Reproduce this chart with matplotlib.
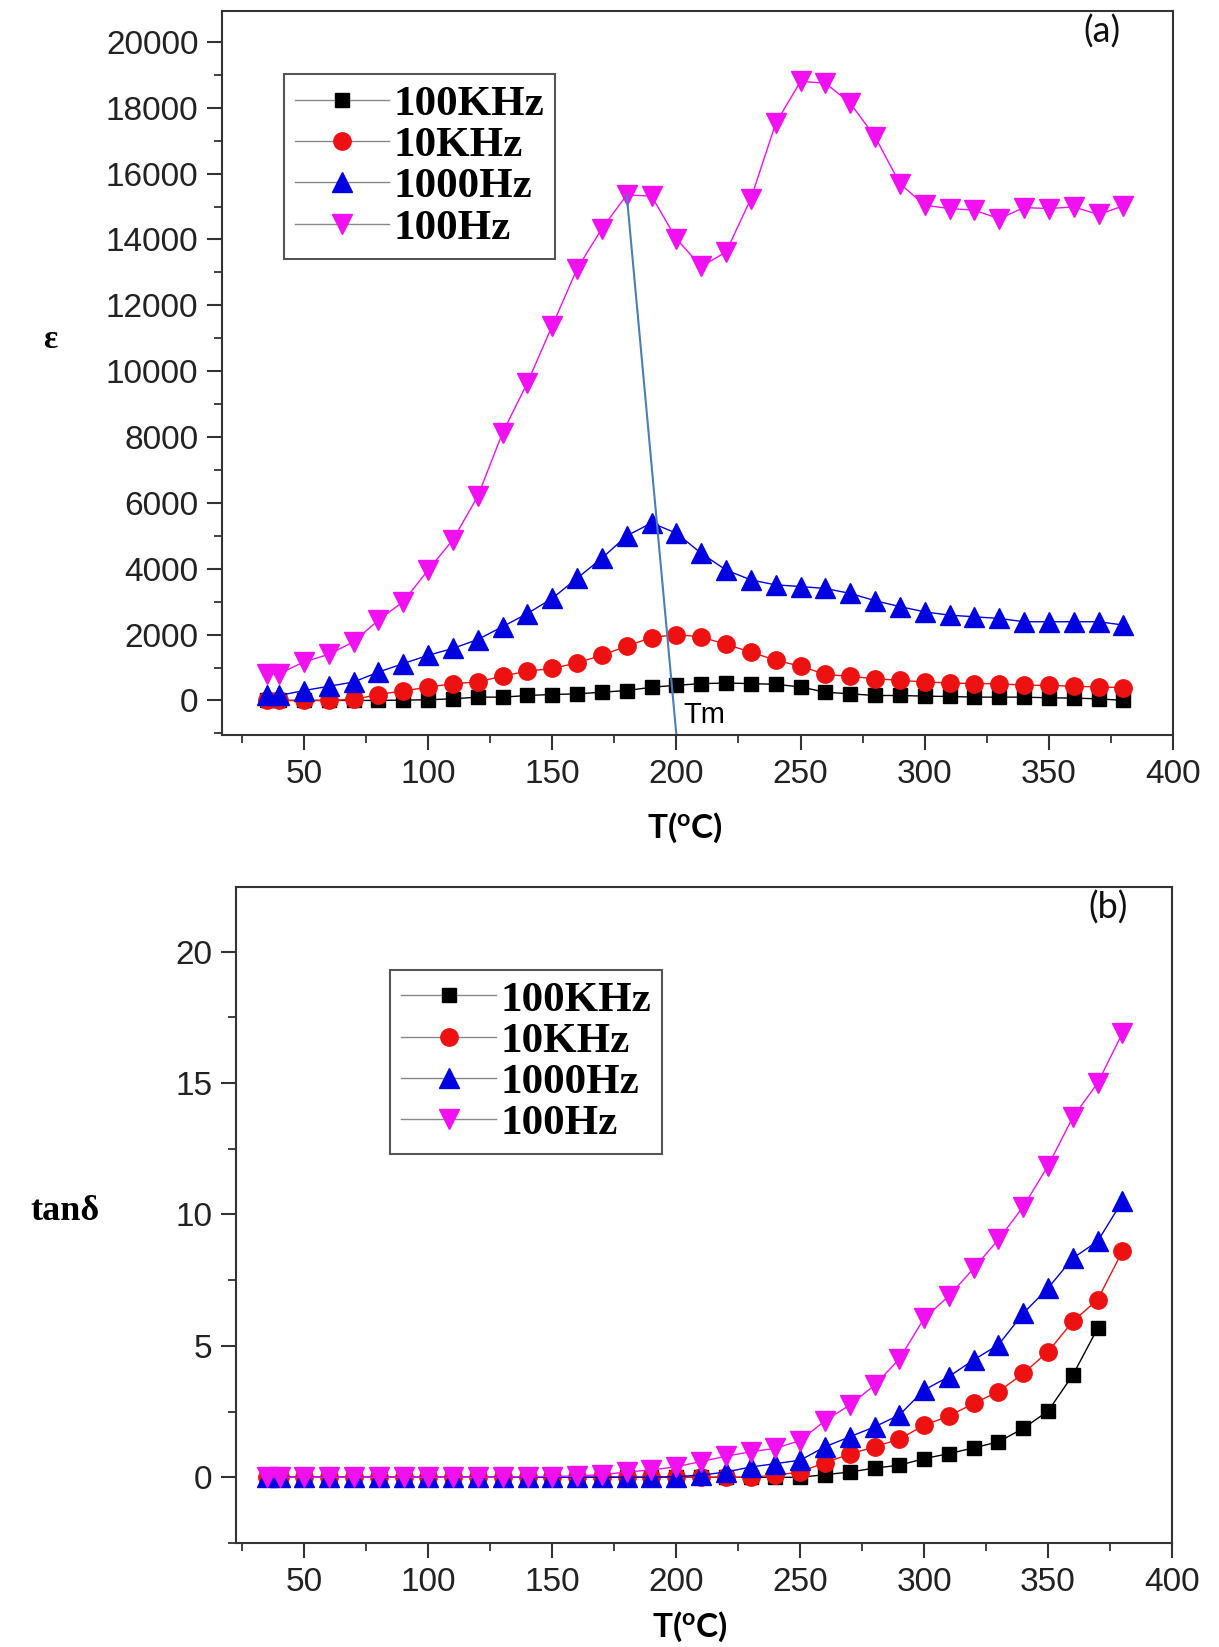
import matplotlib
matplotlib.use('Agg')
import matplotlib.pyplot as plt
from matplotlib.ticker import MultipleLocator
from matplotlib.font_manager import FontProperties

plt.rcParams['font.family'] = ['Liberation Sans', 'DejaVu Sans']

# temperature points (same for both panels)
T = [35, 40, 50, 60, 70, 80, 90, 100, 110, 120, 130, 140, 150, 160, 170, 180,
     190, 200, 210, 220, 230, 240, 250, 260, 270, 280, 290, 300, 310, 320, 330,
     340, 350, 360, 370, 380]

# (a) dielectric constant
eps_100k = [0, 0, 0, 0, 0, 0, 10, 20, 50, 100, 100, 150, 180, 200, 250, 300,
            400, 460, 510, 530, 510, 490, 410, 250, 200, 150, 150, 130, 120, 100,
            100, 100, 80, 70, 50, 0]
eps_10k = [0, 0, 0, 0, 30, 180, 290, 400, 510, 560, 740, 890, 970, 1140, 1370,
           1650, 1910, 2000, 1930, 1700, 1470, 1220, 1040, 790, 730, 660, 610,
           560, 530, 510, 510, 460, 460, 430, 410, 390]
eps_1000 = [150, 150, 300, 430, 560, 860, 1120, 1370, 1580, 1850, 2240, 2640,
            3100, 3710, 4320, 5000, 5390, 5080, 4470, 3960, 3660, 3510, 3460,
            3400, 3250, 3030, 2850, 2690, 2590, 2540, 2490, 2390, 2390, 2390,
            2390, 2290]
eps_100 = [810, 810, 1170, 1400, 1780, 2440, 3000, 3960, 4880, 6200, 8130, 9650,
           11380, 13110, 14330, 15350, 15320, 14020, 13180, 13620, 15240, 17530,
           18800, 18750, 18140, 17120, 15700, 15040, 14940, 14890, 14630, 14970,
           14940, 14990, 14760, 15020]

# (b) loss tangent
tan_100k = [0, 0, 0, 0, 0, 0, 0, 0, 0, 0, 0, 0, 0, 0, 0, 0, 0, 0, 0, 0, 0, 0, 0,
            0.1, 0.2, 0.35, 0.46, 0.71, 0.9, 1.12, 1.35, 1.86, 2.52, 3.89, 5.67]
tan_10k = [0, 0, 0, 0, 0, 0, 0, 0, 0, 0, 0, 0, 0, 0, 0, 0, 0, 0, 0, 0, 0,
           0.08, 0.2, 0.56, 0.88, 1.16, 1.45, 1.98, 2.33, 2.81, 3.26, 3.95, 4.78,
           5.93, 6.76, 8.6]
tan_1000 = [0, 0, 0, 0, 0, 0, 0, 0, 0, 0, 0, 0, 0, 0, 0, 0, 0,
            0.03, 0.08, 0.2, 0.39, 0.52, 0.65, 1.16, 1.54, 1.92, 2.37, 3.32, 3.83,
            4.47, 5.04, 6.24, 7.2, 8.34, 8.98, 10.51]
tan_100 = [0, 0, 0, 0, 0, 0, 0, 0, 0, 0, 0, 0.02, 0.03,
           0.05, 0.1, 0.2, 0.28, 0.4, 0.6, 0.8, 0.97, 1.1, 1.4, 2.15, 2.75, 3.5,
           4.5, 6.05, 6.9, 7.95, 9.05, 10.3, 11.85, 13.7, 15.0, 16.9]

labels = ['100KHz', '10KHz', '1000Hz', '100Hz']
markers = ['s', 'o', '^', 'v']
colors = ['#000000', '#ee1111', '#0000e0', '#f010f0']
msizes = [10.5, 12.5, 14, 14]

# Tm guide line (from the first 100Hz maximum down to the axis)
tm_start = (180, 15350)
tm_end = (200, -1050)

W, H = 1219, 1647
fig = plt.figure(figsize=(W / 100, H / 100), dpi=100)

ax1 = fig.add_axes([222 / W, 1 - 735 / H, 951 / W, 724 / H])
ax2 = fig.add_axes([236 / W, 1 - 1543 / H, 936 / W, 656 / H])

legfont = FontProperties(family='Liberation Serif', weight='bold', size=31)


def style_axes(ax):
    for s in ax.spines.values():
        s.set_color('#333333')
        s.set_linewidth(1.5)
    ax.tick_params(which='major', direction='out', length=11, width=1.5,
                   labelsize=24, labelcolor='#222222', color='#333333', pad=6)
    ax.tick_params(which='minor', direction='out', length=6, width=1.3,
                   color='#333333')


def add_legend(ax, anchor):
    leg = ax.legend(loc='upper left', bbox_to_anchor=anchor, prop=legfont,
                    fancybox=False, edgecolor='#555555', framealpha=1,
                    labelspacing=0.05, handlelength=2.2, handletextpad=0.1,
                    borderpad=0.25, borderaxespad=0)
    leg.get_frame().set_linewidth(1.5)
    for h in leg.get_lines():
        h.set_color('#888888')
    return leg


# ---- panel (a)
for y, lab, m, c, ms in zip([eps_100k, eps_10k, eps_1000, eps_100], labels,
                            markers, colors, msizes):
    ax1.plot(T, y, marker=m, color=c, mfc=c, mec=c, ms=ms, lw=1.0, label=lab)

ax1.plot([tm_start[0], tm_end[0]], [tm_start[1], tm_end[1]], color='#4a7ebb',
         lw=1.5)
ax1.text(203, -440, 'Tm', fontsize=21, ha='left', va='center',
         family=['Liberation Sans Narrow', 'Liberation Sans'])

ax1.set_xlim(17, 400)
ax1.set_ylim(-1050, 20940)
ax1.xaxis.set_major_locator(MultipleLocator(50))
ax1.xaxis.set_minor_locator(MultipleLocator(25))
ax1.yaxis.set_major_locator(MultipleLocator(2000))
ax1.yaxis.set_minor_locator(MultipleLocator(1000))
style_axes(ax1)
add_legend(ax1, (0.065, 0.913))
ax1.text(0.925, 0.972, '(a)', transform=ax1.transAxes, fontsize=26,
         family='Lato', ha='center', va='center', color='#111111')

# ---- panel (b)
for x, y, lab, m, c, ms in zip([T[:len(tan_100k)], T, T, T],
                               [tan_100k, tan_10k, tan_1000, tan_100], labels,
                               markers, colors, msizes):
    ax2.plot(x, y, marker=m, color=c, mfc=c, mec=c, ms=ms, lw=1.0, label=lab)

ax2.set_xlim(22.4, 400)
ax2.set_ylim(-2.5, 22.46)
ax2.xaxis.set_major_locator(MultipleLocator(50))
ax2.xaxis.set_minor_locator(MultipleLocator(25))
ax2.yaxis.set_major_locator(MultipleLocator(5))
ax2.yaxis.set_minor_locator(MultipleLocator(2.5))
style_axes(ax2)
add_legend(ax2, (0.165, 0.874))
ax2.text(0.932, 0.968, '(b)', transform=ax2.transAxes, fontsize=26,
         family='Lato', ha='center', va='center', color='#111111')

# axis titles
xlab = r'T($\mathregular{^o}$C)'
fig.text(685 / W, 1 - 828 / H, xlab, fontsize=24, family='Lato',
         weight='bold', ha='center', va='center')
fig.text(690 / W, 1 - 1627 / H, xlab, fontsize=24, family='Lato',
         weight='bold', ha='center', va='center')
fig.text(50 / W, 1 - 340 / H, 'ε', fontsize=24, family='Liberation Serif',
         weight='bold', ha='center', va='center')
fig.text(65 / W, 1 - 1212 / H, 'tanδ', fontsize=26, family='Liberation Serif',
         weight='bold', ha='center', va='center')

fig.savefig('out.png', dpi=100)
